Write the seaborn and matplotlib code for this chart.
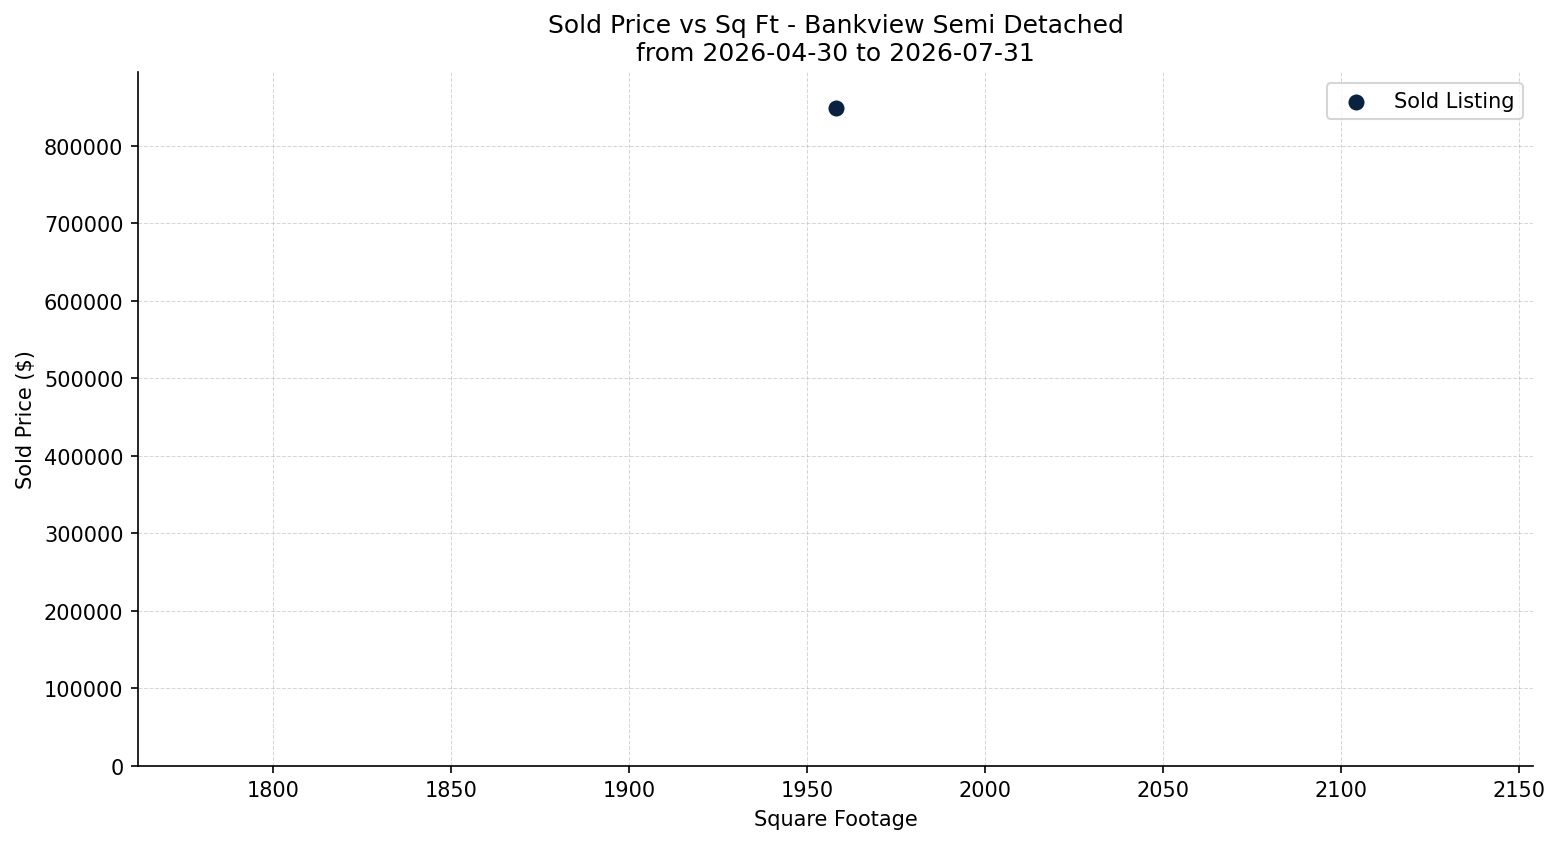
import pandas as pd
import matplotlib
matplotlib.use("Agg")
import matplotlib.pyplot as plt
import seaborn as sns

# Sold listings data
sqft = [1958]
sold_price = [848000]
series_label = "Sold Listing"
community = "Bankview"
prop_type = "Semi Detached"
start_date = "2026-04-30"
end_date = "2026-07-31"

df = pd.DataFrame({"Square Footage": sqft, "Sold Price": sold_price})

fig, ax = plt.subplots(figsize=(10.4, 5.6333), dpi=150)
sns.scatterplot(data=df, x="Square Footage", y="Sold Price", color="#0a2240",
                s=70, label=series_label, ax=ax)

ax.set_xlim(df["Square Footage"].min() * 0.9, df["Square Footage"].max() * 1.1)
ax.set_ylim(bottom=0)
ax.ticklabel_format(axis="y", style="plain", useOffset=False)

ax.set_title(f"Sold Price vs Sq Ft - {community} {prop_type}\nfrom {start_date} to {end_date}")
ax.set_xlabel("Square Footage")
ax.set_ylabel("Sold Price ($)")
ax.grid(True, linestyle="--", linewidth=0.5, alpha=0.5)
ax.legend(loc="upper right")
sns.despine(ax=ax)

fig.subplots_adjust(left=0.0885, right=0.9827, top=0.9132, bottom=0.0927)
plt.savefig("out.png", dpi=150)
